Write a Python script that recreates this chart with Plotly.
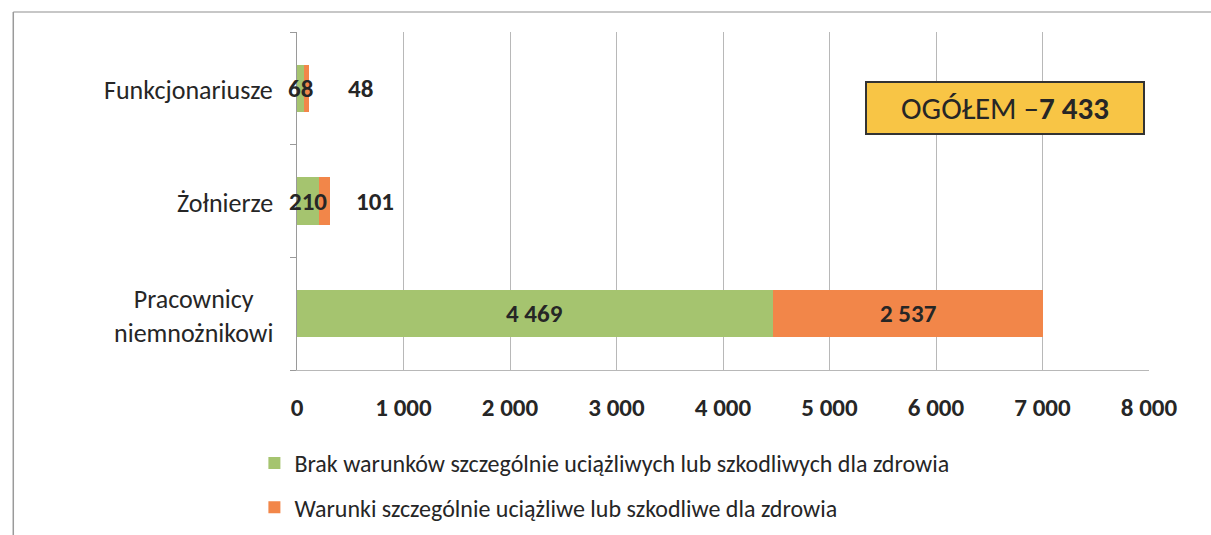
import plotly.graph_objects as go

# Dane
kategorie = ["Pracownicy<br>niemnożnikowi", "Żołnierze", "Funkcjonariusze"]
brak_warunkow = [4469, 210, 68]
warunki_szczegolne = [2537, 101, 48]
nazwy_serii = [
    "Brak warunków szczególnie uciążliwych lub szkodliwych dla zdrowia",
    "Warunki szczególnie uciążliwe lub szkodliwe dla zdrowia",
]
x_ticki = [0, 1000, 2000, 3000, 4000, 5000, 6000, 7000, 8000]

FONT = "Carlito, Lato, sans-serif"
ZIELONY = "#A5C46F"
POMARANCZOWY = "#F28649"

def fmt(v):
    return f"{v:,}".replace(",", " ")

fig = go.Figure()

fig.add_trace(go.Bar(
    y=kategorie, x=brak_warunkow, orientation="h",
    name=nazwy_serii[0], marker_color=ZIELONY, marker_line_width=0,
    legendgroup="a",
))
fig.add_trace(go.Bar(
    y=kategorie, x=warunki_szczegolne, orientation="h",
    name=nazwy_serii[1], marker_color=POMARANCZOWY, marker_line_width=0,
    legendgroup="b",
))

# etykiety danych (male slupki maja przesuniete etykiety pomaranczowe)
przesuniecie_pom = [0, 50, 54]
for i, kat in enumerate(kategorie):
    g, o = brak_warunkow[i], warunki_szczegolne[i]
    fig.add_annotation(x=g / 2, y=kat, text=fmt(g), showarrow=False,
                       font=dict(family=FONT, size=25, color="#262626", weight="bold"))
    fig.add_annotation(x=g + o / 2, y=kat, text=fmt(o), showarrow=False,
                       xshift=przesuniecie_pom[i],
                       font=dict(family=FONT, size=25, color="#262626", weight="bold"))
    # etykieta kategorii wysrodkowana
    fig.add_annotation(x=0, xref="paper", y=kat, text=kat, showarrow=False,
                       xanchor="right", align="center", xshift=-22, yshift=-2,
                       font=dict(family=FONT, size=26, color="#262626"))

razem = sum(brak_warunkow) + sum(warunki_szczegolne)
fig.add_annotation(
    x=0.831, y=0.775, xref="paper", yref="paper",
    xanchor="center", yanchor="middle",
    text=f"OGÓŁEM –<b>{fmt(razem)}</b>", showarrow=False,
    font=dict(family=FONT, size=31, color="#262626"),
    bgcolor="#F8C545", bordercolor="#333333", borderwidth=2,
    width=274, height=48, borderpad=1,
)

# ramka wykresu
fig.add_shape(type="line", xref="paper", yref="paper", x0=-0.333, x1=1.08, y0=1.059, y1=1.059,
              line=dict(color="#b5b5b5", width=1.5))
fig.add_shape(type="line", xref="paper", yref="paper", x0=-0.333, x1=-0.333, y0=1.059, y1=-0.5,
              line=dict(color="#9a9a9a", width=1.5))

fig.update_layout(
    barmode="stack",
    bargap=0.58,
    width=1211, height=535,
    margin=dict(l=297, r=62, t=32, b=165),
    paper_bgcolor="white", plot_bgcolor="white",
    separators=", ",
    font=dict(family=FONT, color="#262626"),
    legend=dict(
        orientation="v", x=-0.05, xanchor="left",
        yref="container", y=0.176, yanchor="top",
        font=dict(family=FONT, size=24, color="#262626"),
        traceorder="grouped", tracegroupgap=10, itemwidth=30,
    ),
    xaxis=dict(
        range=[0, 8000], tickvals=x_ticki, tickformat=",d",
        showgrid=True, gridcolor="#b8b8b8", gridwidth=1,
        showline=True, linecolor="#b8b8b8", zeroline=False,
        tickfont=dict(family=FONT, size=25, color="#262626", weight="bold"),
        ticklabelstandoff=15,
    ),
    yaxis=dict(
        showticklabels=False, tickson="boundaries", ticks="outside",
        ticklen=6, tickcolor="#9a9a9a",
        showline=True, linecolor="#9a9a9a", showgrid=False,
    ),
)

fig.write_html("out.html", config={"displayModeBar": False},
               post_script="document.body.style.margin='0px';")
